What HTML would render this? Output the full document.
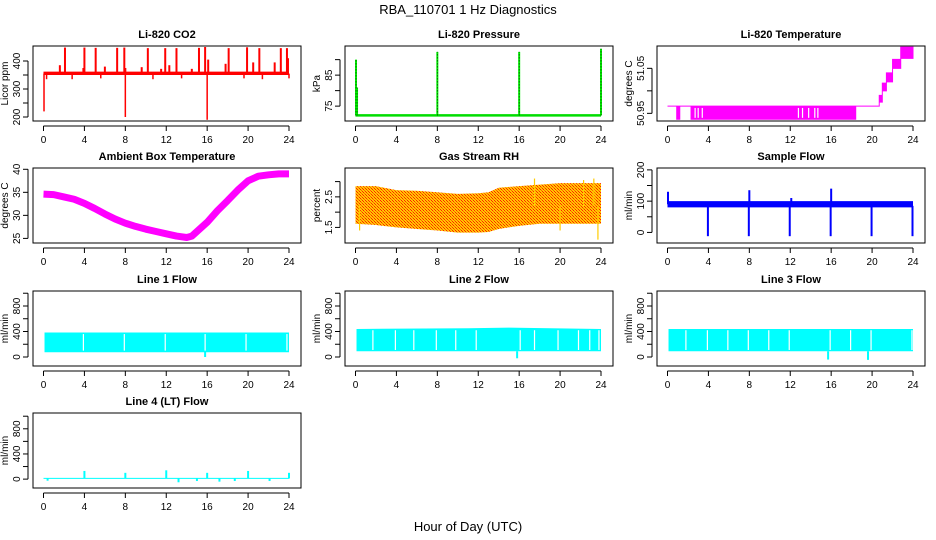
<!DOCTYPE html>
<html><head><meta charset="utf-8"><style>
html,body{margin:0;padding:0;background:#fff;}
svg{display:block;font-family:"Liberation Sans",Arial,sans-serif;}
</style></head><body>
<svg id="chart" width="936" height="540" viewBox="0 0 936 540">
<defs>
<pattern id="rhpat" width="3" height="3" patternUnits="userSpaceOnUse">
<rect width="3" height="3" fill="#ffc800"/><rect width="1" height="1" fill="#ff2000"/><rect x="1" y="1" width="1" height="1" fill="#ff6000"/><rect x="2" y="2" width="1" height="1" fill="#ff2000"/>
</pattern>
</defs>
<text x="468" y="14" text-anchor="middle" font-size="13">RBA_110701  1 Hz Diagnostics</text>
<text x="468" y="531" text-anchor="middle" font-size="13">Hour of Day (UTC)</text>
</svg>
<script>
// ---- data arrays ----
const xTicks = [0,4,8,12,16,20,24];
// CO2
const co2Band = [[0,350,362],[24,350,362]];
const co2UpSpikes = [[2.1,448],[4,448],[5.1,447],[7.2,447],[7.9,448],[10.2,446],[11.9,446],[13,446],[15.2,447],[15.8,450],[18.1,446],[19.9,449],[21.1,446],[23.2,446],[23.8,446],[1.6,385],[3.9,375],[6,380],[8,375],[9.6,378],[11.5,372],[12.3,385],[14.5,372],[16.1,405],[17.8,390],[20.5,395],[22.6,395],[23.9,410]];
const co2DownSpikes = [[0.05,220],[8,200],[16,190],[0.3,335],[2.8,335],[5.6,338],[10.7,335],[13.5,338],[19.6,338],[21.4,335],[24,338]];
// Pressure
const presBase = [[0,72],[24,72]];
const presSpikes = [[0.05,90],[0.15,81],[8,92.5],[16,92.5],[24,93.5]];
// Li-820 temperature
const litHours = [0,0.9,0.9,1.2,1.2,2.3,2.3,18.4,18.4,20.7,20.7,21.0,21.0,21.4,21.4,22.0,22.0,22.8,22.8,24];
const litHigh  = [50.966,50.966,50.966,50.966,50.966,50.966,50.966,50.966,50.966,50.966,50.99,50.99,51.017,51.017,51.04,51.04,51.07,51.07,51.097,51.097];
const litLow   = [50.966,50.966,50.937,50.937,50.966,50.966,50.937,50.937,50.966,50.966,50.975,50.975,51.0,51.0,51.02,51.02,51.05,51.05,51.072,51.072];
// Ambient box temperature
const ambHours = [0,1,2,3,4,5,6,7,8,9,10,11,12,13,14,14.5,15,16,17,18,19,20,21,22,23,24];
const ambTemp  = [34.6,34.5,34,33.5,32.6,31.5,30.3,29.2,28.3,27.6,27,26.5,26,25.5,25.2,25.5,26.5,28.5,31,33.2,35.5,37.5,38.5,38.8,39,39];
// Gas stream RH
const rhHours = [0,2,4,6,8,10,12,13,14,16,18,20,22,24];
const rhHigh  = [2.85,2.85,2.72,2.7,2.65,2.6,2.62,2.65,2.8,2.85,2.9,2.95,2.95,2.95];
const rhLow   = [1.62,1.58,1.5,1.45,1.4,1.33,1.33,1.35,1.45,1.55,1.62,1.62,1.62,1.62];
const rhSpikes = [[17.5,3.1],[22.3,3.05],[23.3,3.1],[23.7,1.1],[20,1.4],[0.4,1.4]];
// Sample flow
const sfBand = [[0,80,100],[24,80,100]];
const sfSpikes = [[0.05,130],[8,135],[16,140],[12.1,110]];
const sfDips = [4,8,12,16,20,24];
// Line flows
const l1Band = [[0.1,75,385],[24,75,385]];
const l1Gaps = [3.9,7.9,11.9,15.8,19.8,23.8];
const l2Band = [[0.1,90,440],[11,90,450],[15,90,460],[24,90,440]];
const l2Gaps = [1.7,3.9,5.7,7.9,9.8,11.8,16.1,17.5,19.8,21.8,22.9,23.8];
const l3Band = [[0.1,90,440],[24,90,440]];
const l3Gaps = [1.8,3.9,5.9,7.9,9.9,11.9,15.9,17.9,19.9,23.9];
const l3Dips = [[15.7,-40],[19.6,-45]];
const l4Band = [[0,5,20],[24,5,20]];
const l4Spikes = [[4,130],[8,100],[12,140],[16,100],[20,130],[24,100]];
const l4Dips = [[0.4,-25],[13.2,-50],[15,-30],[17.2,-40],[18.7,-30],[22.1,-30]];

// ---- layout ----
const NS='http://www.w3.org/2000/svg';
const svg=document.getElementById('chart');
const colL=[33,345,657], rowT=[46,168,291,413], BW=268, BH=75;
function mk(tag,attrs,parent){const e=document.createElementNS(NS,tag);for(const k in attrs)e.setAttribute(k,attrs[k]);(parent||svg).appendChild(e);return e;}

function panel(c,r,title,ylab,ymin,ymax,yticks,ylabels){
  const L=colL[c],T=rowT[r],B=T+BH;
  const g=mk('g',{});
  
  
  const xs=h=>L+10.5+h*245.5/24;
  const ys=v=>B-(v-ymin)/(ymax-ymin)*BH;
  const plot=mk('g',{},g);
  const P={g,plot,xs,ys,L,T,B};
  P.finish=function(){
    const box=mk('rect',{x:L,y:T,width:BW,height:BH,fill:'none',stroke:'#000','stroke-width':1},g);
    
    
    const t=mk('text',{x:L+BW/2,y:T-8,'text-anchor':'middle','font-size':11,'font-weight':'bold'},g);
    t.textContent=title;
    
    
    mk('line',{x1:xs(0),x2:xs(24),y1:B+5,y2:B+5,stroke:'#000'},g);
    xTicks.forEach(v=>{
      mk('line',{x1:xs(v),x2:xs(v),y1:B+5,y2:B+10,stroke:'#000'},g);
      const tl=mk('text',{x:xs(v),y:B+22,'text-anchor':'middle','font-size':10},g);
      tl.textContent=v;
      
      
    });
    mk('line',{x1:L-5,x2:L-5,y1:ys(yticks[0]),y2:ys(yticks[yticks.length-1]),stroke:'#000'},g);
    yticks.forEach((v,i)=>{
      mk('line',{x1:L-10,x2:L-5,y1:ys(v),y2:ys(v),stroke:'#000'},g);
      if(ylabels[i]!==''){
        const yl=mk('text',{x:0,y:0,'text-anchor':'middle','font-size':10,transform:`translate(${L-13},${ys(v)}) rotate(-90)`},g);
        yl.textContent=ylabels[i];
        
        
      }
    });
    const yt=mk('text',{x:0,y:0,'text-anchor':'middle','font-size':10,transform:`translate(${L-25},${(T+B)/2}) rotate(-90)`},g);
    yt.textContent=ylab;
    
    
  };
  return P;
}
function bandPoly(P,band,fill){
  let pts=band.map(d=>P.xs(d[0])+','+P.ys(d[2])).join(' ')+' '+band.slice().reverse().map(d=>P.xs(d[0])+','+P.ys(d[1])).join(' ');
  const p=mk('polygon',{points:pts,fill:fill},P.plot);
  
  
  return p;
}
function vline(P,h,v0,v1,col,w){
  const l=mk('line',{x1:P.xs(h),x2:P.xs(h),y1:P.ys(v0),y2:P.ys(v1),stroke:col,'stroke-width':w||1.5},P.plot);
  
  
}
function gap(P,h,v0,v1){
  const l=mk('line',{x1:P.xs(h),x2:P.xs(h),y1:P.ys(v0),y2:P.ys(v1),stroke:'#fff','stroke-width':1.2},P.plot);
  
  
}

// CO2
let P=panel(0,0,'Li-820 CO2','Licor ppm',185.7,453.6,[200,250,300,350,400],['200','','300','','400']);
bandPoly(P,co2Band,'#ff0000');
co2UpSpikes.forEach(d=>vline(P,d[0],355,d[1],'#ff0000',2));
co2DownSpikes.forEach(d=>vline(P,d[0],355,d[1],'#ff0000',1.5));
P.finish();
// Pressure
P=panel(1,0,'Li-820 Pressure','kPa',70.2,94.4,[75,80,85,90],['75','','85','']);
{const pl=mk('polyline',{points:presBase.map(d=>P.xs(d[0])+','+P.ys(d[1])).join(' '),fill:'none',stroke:'#00dd00','stroke-width':2.5},P.plot);

}
presSpikes.forEach(d=>{vline(P,d[0],72,d[1],'#00ee00',2);
 const l=mk('line',{x1:P.xs(d[0]),x2:P.xs(d[0]),y1:P.ys(72),y2:P.ys(d[1]),stroke:'#000','stroke-width':0.8,'stroke-dasharray':'1,2'},P.plot);
 
 });
P.finish();
// Li temperature
P=panel(2,0,'Li-820 Temperature','degrees C',50.933,51.0996,[50.95,51.0,51.05],['50.95','','51.05']);
{let pts=litHours.map((h,i)=>P.xs(h)+','+P.ys(litHigh[i])).join(' ')+' '+litHours.map((h,i)=>[h,i]).reverse().map(([h,i])=>P.xs(h)+','+P.ys(litLow[i])).join(' ');
const p=mk('polygon',{points:pts,fill:'#ff00ff',stroke:'#ff00ff','stroke-width':1},P.plot);

}
[2.7,3.0,3.4,12.8,13.2,13.8,14.4,14.7].forEach(h=>gap(P,h,50.962,50.94));
P.finish();
// Ambient
P=panel(0,1,'Ambient Box Temperature','degrees C',24.0,40.28,[25,30,35,40],['25','30','35','40']);
{const pl=mk('polyline',{points:ambHours.map((h,i)=>P.xs(h)+','+P.ys(ambTemp[i])).join(' '),fill:'none',stroke:'#ff00ff','stroke-width':7,'stroke-linejoin':'round'},P.plot);

}
P.finish();
// RH
P=panel(1,1,'Gas Stream RH','percent',0.99,3.445,[1.5,2.0,2.5,3.0],['1.5','','2.5','']);
{const band=rhHours.map((h,i)=>[h,rhLow[i],rhHigh[i]]);bandPoly(P,band,'url(#rhpat)');}
rhSpikes.forEach(d=>vline(P,d[0],2.2,d[1],'#ffcc00',1.2));
P.finish();
// Sample flow
P=panel(2,1,'Sample Flow','ml/min',-33.8,206,[0,50,100,150,200],['0','','100','','200']);
bandPoly(P,sfBand,'#0000ff');
sfSpikes.forEach(d=>vline(P,d[0],90,d[1],'#0000ff',2));
sfDips.forEach(h=>vline(P,h-0.05,85,-12,'#0000ff',2));
P.finish();
// Line 1
const flowTicks=[0,200,400,600,800,1000], flowLabels=['0','','400','','800',''];
P=panel(0,2,'Line 1 Flow','ml/min',-141,1035,flowTicks,flowLabels);
bandPoly(P,l1Band,'#00ffff');
l1Gaps.forEach(h=>gap(P,h,360,100));
vline(P,15.8,80,0,'#00ffff',2);
P.finish();
// Line 2
P=panel(1,2,'Line 2 Flow','ml/min',-141,1035,flowTicks,flowLabels);
bandPoly(P,l2Band,'#00ffff');
l2Gaps.forEach(h=>gap(P,h,420,110));
vline(P,15.8,90,-20,'#00ffff',2);
P.finish();
// Line 3
P=panel(2,2,'Line 3 Flow','ml/min',-141,1035,flowTicks,flowLabels);
bandPoly(P,l3Band,'#00ffff');
l3Gaps.forEach(h=>gap(P,h,420,110));
l3Dips.forEach(d=>vline(P,d[0],90,d[1],'#00ffff',2));
P.finish();
// Line 4
P=panel(0,3,'Line 4 (LT) Flow','ml/min',-141,1051,flowTicks,flowLabels);
bandPoly(P,l4Band,'#00ffff');
l4Spikes.forEach(d=>vline(P,d[0],10,d[1],'#00ffff',2));
l4Dips.forEach(d=>vline(P,d[0],10,d[1],'#00ffff',2));
P.finish();
</script>
</body></html>
